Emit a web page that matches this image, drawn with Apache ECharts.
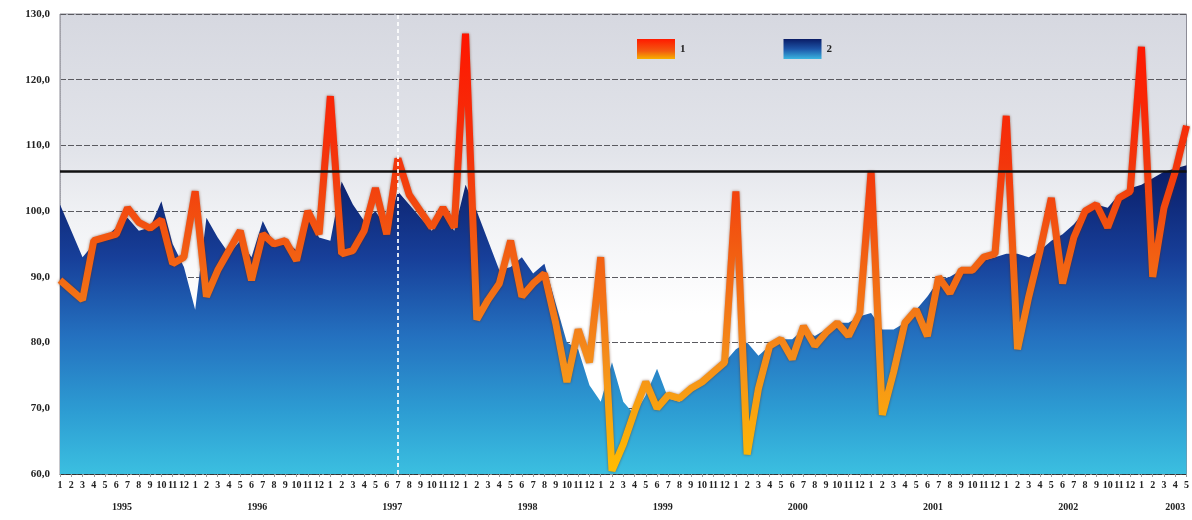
<!DOCTYPE html>
<html>
<head>
<meta charset="utf-8">
<script src="https://cdn.jsdelivr.net/npm/echarts@6/dist/echarts.min.js"></script>
<style>
html,body{margin:0;padding:0;background:#ffffff;}
#c{width:1192px;height:520px;}
</style>
</head>
<body>
<div id="c"></div>
<script>
// ---- data ----
const years = ['1995','1996','1997','1998','1999','2000','2001','2002','2003'];
const monthLabels = [
  '1','2','3','4','5','6','7','8','9','10','11','12',
  '1','2','3','4','5','6','7','8','9','10','11','12',
  '1','2','3','4','5','6','7','8','9','10','11','12',
  '1','2','3','4','5','6','7','8','9','10','11','12',
  '1','2','3','4','5','6','7','8','9','10','11','12',
  '1','2','3','4','5','6','7','8','9','10','11','12',
  '1','2','3','4','5','6','7','8','9','10','11','12',
  '1','2','3','4','5','6','7','8','9','10','11','12',
  '1','2','3','4','5'
];
const series1 = [
  89.5, 88, 86.5, 95.5, 96, 96.5, 100.5, 98.3, 97.4, 98.7, 92, 93,
  103, 87, 91, 94, 97, 89.5, 96.5, 95, 95.5, 92.5, 100, 96.5,
  117.5, 93.5, 94, 97, 103.5, 96.5, 108, 102.5, 100, 97.5, 100.5, 97.5,
  127, 83.5, 86.5, 89, 95.5, 87, 89, 90.5, 83, 74, 82, 77,
  93, 60.5, 64.5, 69.5, 74, 70, 72, 71.5, 73, 74, 75.5, 77,
  103, 63, 73, 79.5, 80.5, 77.5, 82.5, 79.5, 81.5, 83, 81, 84.5,
  106, 69, 75.5, 83, 85, 81, 90, 87.5, 91, 91, 93, 93.5,
  114.5, 79, 87, 94, 102, 89, 96, 100, 101, 97.5, 102, 103,
  125, 90, 100.5, 106, 113
];
const series2 = [
  101, 97, 93, 95, 96, 97.5, 99, 97, 97.5, 101.5, 95, 91.5,
  85, 99, 96, 93.5, 95.5, 93, 98.5, 95, 95.5, 94, 99, 96,
  95.5, 104.5, 101, 98.5, 100, 97.5, 103, 101, 99, 97, 99.5, 97,
  104, 100, 95.5, 91, 91.5, 93, 90.5, 92, 86, 80, 79, 73.5,
  71, 77, 71, 69, 72, 76, 71.5, 71, 72.5, 73.5, 75, 77,
  79, 80, 78, 79.5, 80.5, 80.5, 82, 81, 82, 83, 83, 84,
  84.5, 82, 82, 83, 85, 87, 89.5, 90, 91, 91.5, 92.5, 93,
  93.5, 93.5, 93, 94, 95.5, 96.5, 98, 100, 101, 100.5, 102.5, 103.5,
  104, 105, 106, 106.5, 107
];
const seriesNames = ['1', '2'];
const referenceLevel = 106;
const markerYear = '1997';
const markerMonth = '7';
const yTicks = { min: 60, max: 130, step: 10 };

// ---- derived helpers ----
const yearStarts = [];
monthLabels.forEach((m, i) => { if (m === '1') yearStarts.push(i); });
const lastIdx = monthLabels.length - 1;
const yearCenters = yearStarts.map(s => Math.min(s + 5.5, lastIdx - 1));
const mY = yearStarts[years.indexOf(markerYear)];
const markerIdx = mY + monthLabels.slice(mY).indexOf(markerMonth);

const G = echarts.graphic.LinearGradient;
const lineGrad = () => new G(0, 0, 0, 1, [
  { offset: 0, color: '#ff1500' },
  { offset: 0.3, color: '#f3360c' },
  { offset: 0.5, color: '#f25e12' },
  { offset: 0.75, color: '#f58f1a' },
  { offset: 1, color: '#ffbe00' }
]);
const areaGrad = () => new G(0, 0, 0, 1, [
  { offset: 0, color: '#0a1c66' },
  { offset: 0.3, color: '#173f99' },
  { offset: 0.55, color: '#2470bf' },
  { offset: 0.8, color: '#2d9dd3' },
  { offset: 1, color: '#3bbfe0' }
]);
const serif = 'Liberation Serif, DejaVu Serif, serif';

const chart = echarts.init(document.getElementById('c'), null, { renderer: 'canvas' });
chart.setOption({
  animation: false,
  backgroundColor: '#ffffff',
  grid: {
    left: 60, right: 4, top: 14, bottom: 46,
    show: true,
    borderColor: '#8c8c96',
    borderWidth: 1,
    backgroundColor: new G(0, 0, 0, 1, [
      { offset: 0, color: '#d6d8e0' },
      { offset: 0.3, color: '#e2e4ea' },
      { offset: 0.45, color: '#f1f2f5' },
      { offset: 0.65, color: '#ffffff' },
      { offset: 1, color: '#ffffff' }
    ])
  },
  legend: {
    left: 632, top: 34,
    itemWidth: 38, itemHeight: 20,
    itemGap: 98,
    icon: 'rect',
    textStyle: { fontFamily: serif, fontSize: 11, fontWeight: 'bold', color: '#222' },
    data: [
      { name: seriesNames[0], icon: 'rect', itemStyle: { color: new G(0, 0, 0, 1, [{ offset: 0, color: '#ff1a00' }, { offset: 0.6, color: '#f35a10' }, { offset: 1, color: '#f7b000' }]) } },
      { name: seriesNames[1], icon: 'rect', itemStyle: { color: new G(0, 0, 0, 1, [{ offset: 0, color: '#0a1c66' }, { offset: 0.5, color: '#1d55a8' }, { offset: 1, color: '#3bb5e0' }]) } }
    ]
  },
  xAxis: [
    {
      type: 'category',
      data: monthLabels,
      boundaryGap: false,
      axisLine: { show: true, lineStyle: { color: '#333', type: [4, 2], width: 1 } },
      axisTick: { show: true, interval: 0, length: 3, lineStyle: { color: '#999' } },
      axisLabel: { interval: 0, margin: 6, fontFamily: serif, fontSize: 10, fontWeight: 'bold', color: '#222' },
      splitLine: { show: false }
    },
    {
      type: 'value',
      position: 'bottom',
      offset: 20,
      min: 0,
      max: lastIdx,
      axisLine: { show: false },
      axisTick: { show: false },
      splitLine: { show: false },
      axisLabel: {
        customValues: yearCenters,
        fontFamily: serif, fontSize: 10, fontWeight: 'bold', color: '#222',
        formatter: v => {
          const k = yearCenters.findIndex(c => Math.abs(c - v) < 1e-6);
          return k >= 0 ? years[k] : '';
        }
      }
    }
  ],
  yAxis: {
    type: 'value',
    min: yTicks.min, max: yTicks.max, interval: yTicks.step,
    axisLine: { show: true, lineStyle: { color: '#a0a0a8', type: 'dotted' } },
    axisTick: { show: false },
    axisLabel: {
      margin: 10,
      fontFamily: serif, fontSize: 11, fontWeight: 'bold', color: '#222',
      formatter: v => v.toFixed(1).replace('.', ',')
    },
    splitLine: { show: true, lineStyle: { color: '#5a5a60', width: 1, type: [6, 2] } }
  },
  series: [
    {
      name: seriesNames[1],
      type: 'line',
      data: series2,
      symbol: 'none',
      z: 2,
      lineStyle: { width: 0 },
      itemStyle: { color: '#173f99' },
      areaStyle: { color: areaGrad(), opacity: 1, origin: 'start' },
      markLine: {
        silent: true,
        symbol: ['none', 'none'],
        label: { show: false },
        animation: false,
        data: [
          { yAxis: referenceLevel, lineStyle: { color: '#111', width: 2.5, type: 'solid' } },
          { xAxis: markerIdx, lineStyle: { color: '#ffffff', width: 2, type: [4, 3], opacity: 0.85 } }
        ]
      }
    },
    {
      name: seriesNames[0],
      type: 'line',
      data: series1,
      symbol: 'none',
      z: 3,
      itemStyle: { color: '#f35a10' },
      lineStyle: {
        width: 7,
        color: lineGrad(),
        join: 'bevel',
        cap: 'butt',
        shadowColor: 'rgba(90,30,0,0.55)',
        shadowBlur: 3
      }
    }
  ]
});
</script>
</body>
</html>
